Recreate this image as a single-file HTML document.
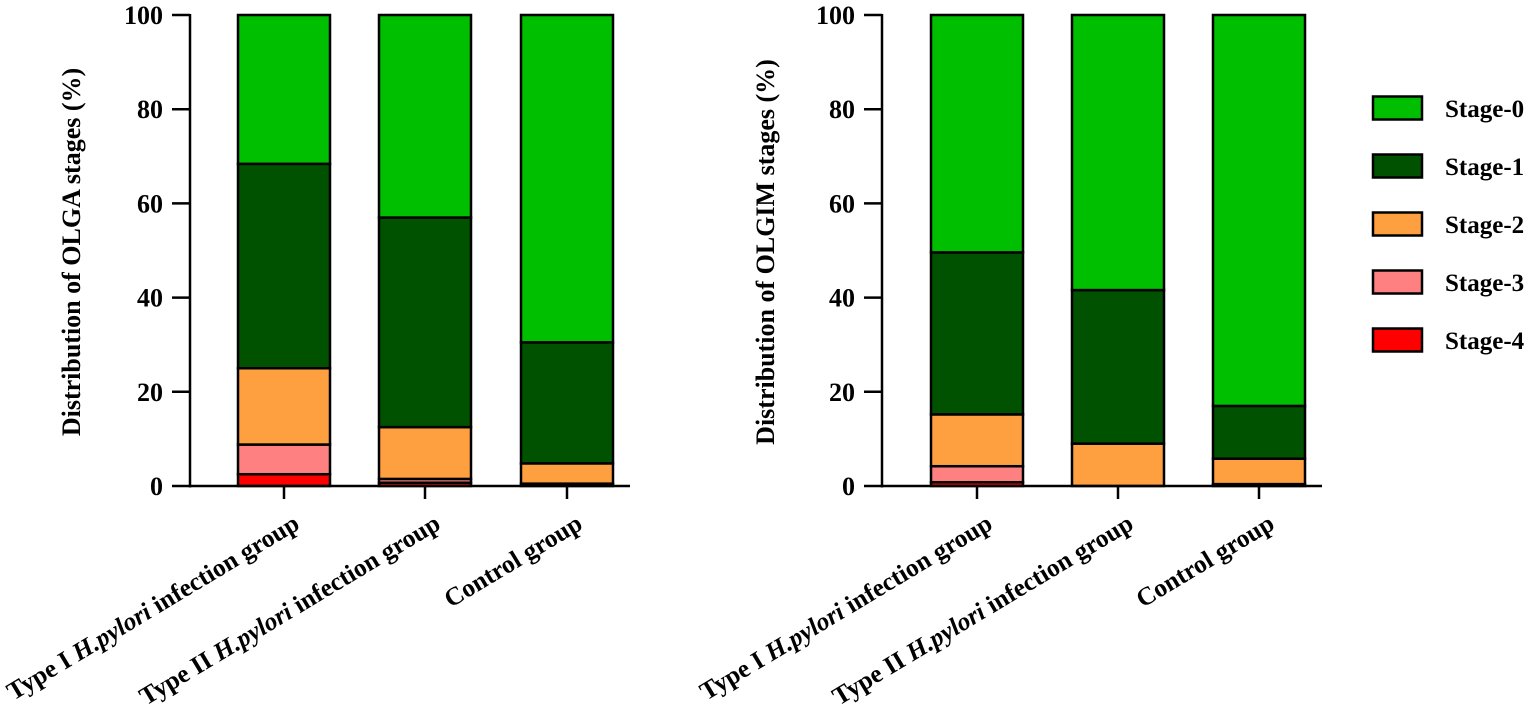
<!DOCTYPE html>
<html><head><meta charset="utf-8"><style>
html,body{margin:0;padding:0;background:#fff}
svg{display:block;font-family:"Liberation Serif",serif;font-weight:bold}
</style></head><body>
<svg id="s" width="1535" height="706" viewBox="0 0 1535 706" xmlns="http://www.w3.org/2000/svg"></svg>
<script>
const C=['#00bf00','#005200','#ffa040','#ff8080','#ff0000'];
const s=document.getElementById('s');let h='';
const Y=v=>486-4.71*v;
function chart(ax,xs,data,title,tx){
  data.forEach((segs,i)=>{
    const x=xs[i];
    segs.forEach(([st,a,b])=>{h+=`<rect x="${x}" y="${Y(b)}" width="92" height="${Y(a)-Y(b)}" fill="${C[st]}" stroke="#000" stroke-width="2.5"/>`;});
    const t=x+46;
    h+=`<line x1="${t}" y1="486" x2="${t}" y2="499" stroke="#000" stroke-width="2.5"/>`;
  });
  h+=`<line x1="${ax}" y1="14" x2="${ax}" y2="487.5" stroke="#000" stroke-width="2.5"/>`;
  h+=`<line x1="${ax}" y1="486" x2="${xs[2]+92+17}" y2="486" stroke="#000" stroke-width="2.5"/>`;
  for(let v=0;v<=100;v+=20){const y=Y(v);
    h+=`<line x1="${ax-18}" y1="${y}" x2="${ax}" y2="${y}" stroke="#000" stroke-width="2.5"/>`;
    h+=`<text x="${ax-27}" y="${y+9}" font-size="26" text-anchor="end">${v}</text>`;}
  h+=`<text transform="translate(${tx},252) rotate(-90)" font-size="26" text-anchor="middle">${title}</text>`;
  const labs=['Type I <tspan font-style="italic">H.pylori</tspan> infection group','Type II <tspan font-style="italic">H.pylori</tspan> infection group','Control group'];
  xs.forEach((x,i)=>{const t=x+46+17;
    h+=`<text transform="translate(${t},528) rotate(-31)" font-size="25.5" text-anchor="end">${labs[i]}</text>`;});
}
chart(190,[238,379,521],[
 [[4,0,2.5],[3,2.5,8.8],[2,8.8,25],[1,25,68.4],[0,68.4,100]],
 [[4,0,0.7],[3,0.7,1.5],[2,1.5,12.5],[1,12.5,57],[0,57,100]],
 [[4,0,0.5],[2,0.5,4.8],[1,4.8,30.5],[0,30.5,100]]
],'Distribution of OLGA stages (%)',80);
chart(882,[931,1072,1213],[
 [[4,0,0.8],[3,0.8,4.2],[2,4.2,15.2],[1,15.2,49.6],[0,49.6,100]],
 [[2,0,9],[1,9,41.6],[0,41.6,100]],
 [[3,0,0.4],[2,0.4,5.8],[1,5.8,17],[0,17,100]]
],'Distribution of OLGIM stages (%)',774);
for(let i=0;i<5;i++){const cy=108+58*i;
  h+=`<rect x="1373" y="${cy-11.5}" width="49" height="23" fill="${C[i]}" stroke="#000" stroke-width="2.5"/>`;
  h+=`<text x="1445" y="${cy+9}" font-size="25">Stage-${i}</text>`;}
s.innerHTML=h;
</script>
</body></html>
